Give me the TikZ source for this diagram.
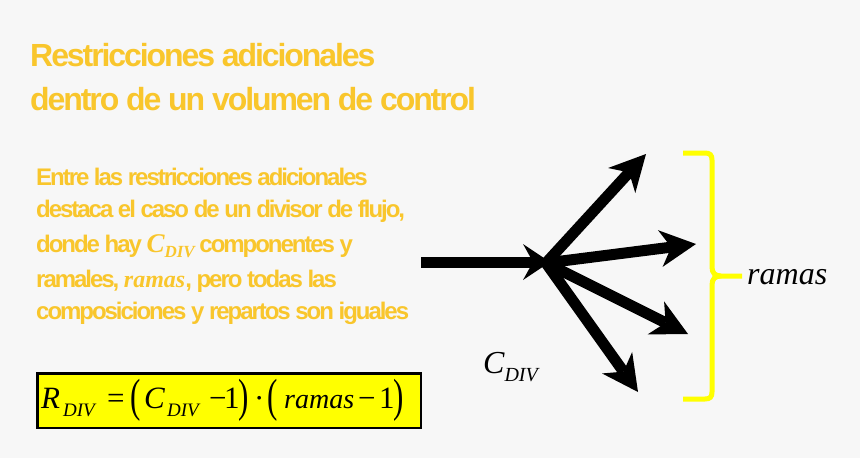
\documentclass[tikz,border=0pt]{standalone}
\usepackage{fontspec}
\usepackage{graphicx}
\usetikzlibrary{arrows.meta}
\setmainfont{Liberation Serif}
\newfontfamily\hdr{Liberation Sans}[LetterSpace=-6.5]
\newfontfamily\phdr{Liberation Sans}[LetterSpace=-8.5]
\newfontfamily\tnr{Liberation Serif}
\definecolor{bg}{HTML}{F7F7F7}
\definecolor{gold}{HTML}{F9C62C}
\definecolor{ylw}{HTML}{FFFF00}
\newcommand{\pc}[2]{\makebox[#1pt][l]{#2}}
\newcommand{\sbx}[1]{\raisebox{-8pt}{\fontsize{19}{19}\selectfont\itshape #1}}
\newcommand{\bigp}[1]{\raisebox{-3pt}{\scalebox{1}[1.5]{#1}}}
\tikzset{
  titletext/.style={anchor=base west, inner sep=0pt, text=gold, font=\hdr\bfseries\fontsize{32}{32}\selectfont},
  paratext/.style={anchor=base west, inner sep=0pt, text=gold, font=\phdr\bfseries\fontsize{24}{24}\selectfont},
  flow/.style={line width=11pt, draw=black},
  headin/.style={-{Stealth[length=27pt,width=36pt,inset=10pt,line width=0pt]}},
  headout/.style={-{Stealth[length=36pt,width=37pt,inset=11pt,line width=0pt]}},
  bracepath/.style={draw=ylw, line width=5pt},
  formbox/.style={draw=black, fill=ylw, line width=2.5pt, anchor=north west, inner sep=0pt, minimum width=383.5pt, minimum height=54.5pt},
  mathtext/.style={anchor=base west, inner sep=0pt, font=\tnr\fontsize{31}{31}\selectfont},
  lbl/.style={anchor=base west, inner sep=0pt, font=\tnr\itshape\fontsize{32}{32}\selectfont}
}
\begin{document}
\begin{tikzpicture}[x=1pt,y=-1pt]
\useasboundingbox (0,0) rectangle (860,458);
\fill[bg] (0,0) rectangle (860,458);

% title
\node[titletext] (title1) at (30,66) {Restricciones adicionales};
\node[titletext] (title2) at (30,110) {dentro de un volumen de control};

% paragraph
\node[paratext] (p1) at (36,185) {Entre las restricciones adicionales};
\node[paratext] (p2) at (36,217) {destaca el caso de un divisor de flujo,};
\node[paratext] (p3) at (36,252) {donde hay {\tnr\itshape\fontsize{27}{27}\selectfont C\raisebox{-5pt}{\fontsize{17}{17}\selectfont DIV}} componentes y};
\node[paratext] (p4) at (36,287) {ramales, {\tnr\itshape\fontsize{24}{24}\selectfont ramas}, pero todas las};
\node[paratext] (p5) at (36,319) {composiciones y repartos son iguales};

% formula
\node[formbox] (fbox) at (36.25,372.25) {};
\node[mathtext] (formula) at (41,408) {\pc{22}{\itshape R}\pc{44}{\sbx{DIV}}\pc{23}{=}\pc{14}{\bigp(}\pc{23}{\itshape C}\pc{42}{\sbx{DIV}}\pc{15}{−}\pc{14}{1}\pc{16}{\bigp)}\pc{13}{·}\pc{17}{\bigp(}\pc{74}{\itshape\fontsize{28}{28}\selectfont ramas}\pc{21}{−}\pc{14}{1}\bigp)};

% arrows
\coordinate (src) at (421,262);
\coordinate (J) at (550,262);
\coordinate (hub) at (546,263);
\coordinate (b1) at (646,154);
\coordinate (b2) at (696,244);
\coordinate (b3) at (688,334);
\coordinate (b4) at (638,392);
\draw[flow,headin] (src) -- (J);
\draw[flow,headout] (hub) -- (b1);
\draw[flow,headout] (hub) -- (b2);
\draw[flow,headout] (hub) -- (b3);
\draw[flow,headout] (hub) -- (b4);

% brace
\draw[bracepath] (683,153) -- (705,153) .. controls (710,153) and (712,155) .. (712,160) -- (712,267) .. controls (712,273) and (715,276) .. (721,276) -- (742,276);
\draw[bracepath] (721,276) .. controls (715,276) and (712,279) .. (712,285) -- (712,392) .. controls (712,397) and (710,399) .. (705,399) -- (683,399);

% labels
\node[lbl] (ramas) at (747,284) {ramas};
\node[lbl] (cdiv) at (483,373) {C\raisebox{-8pt}{\fontsize{20}{20}\selectfont DIV}};
\end{tikzpicture}
\end{document}
